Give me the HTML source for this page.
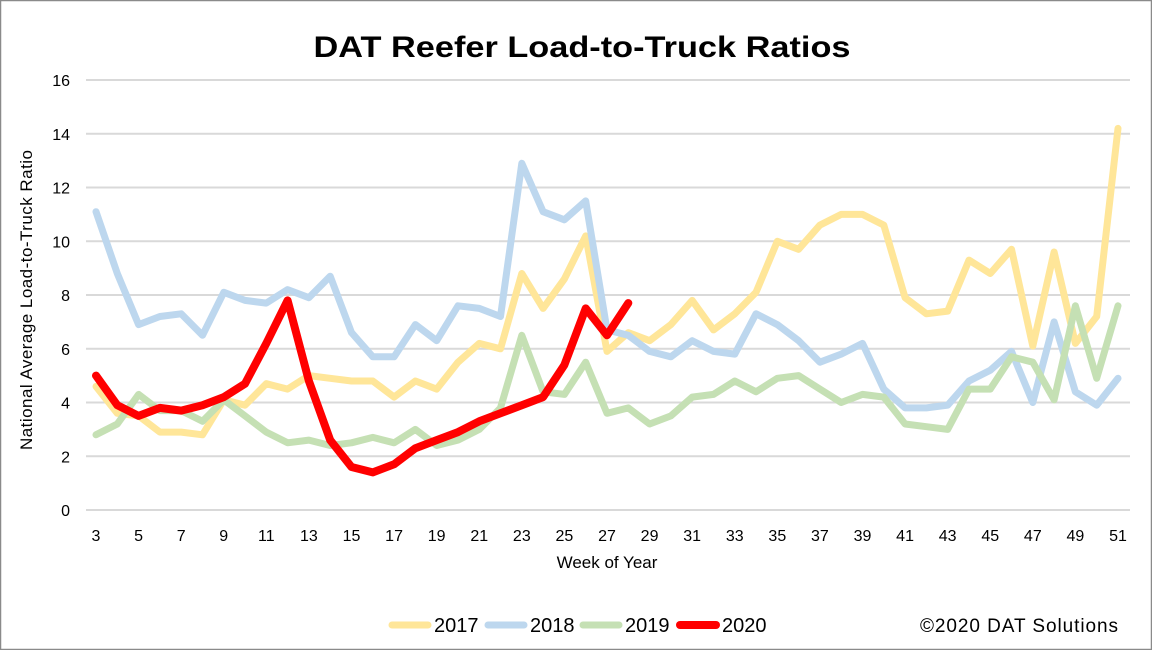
<!DOCTYPE html>
<html><head><meta charset="utf-8"><style>
html,body{margin:0;padding:0;background:#fff;}
svg{display:block;font-family:"Liberation Sans",sans-serif;}
</style></head><body>
<svg id="chart" width="1152" height="650" viewBox="0 0 1152 650">
<rect x="0.5" y="0.5" width="1151" height="649" fill="#fff" stroke="#8a8a8a" stroke-width="1.5"/>
<text x="582" y="57" text-anchor="middle" font-size="30" font-weight="bold" fill="#000" textLength="537" lengthAdjust="spacingAndGlyphs">DAT Reefer Load-to-Truck Ratios</text>
<g id="grid"></g>
<g id="yticks"></g>
<g id="xticks"></g>
<g id="series"></g>
<text transform="translate(32,300) rotate(-90)" text-anchor="middle" font-size="17" fill="#000" textLength="300">National Average Load-to-Truck Ratio</text>
<text x="607" y="568" text-anchor="middle" font-size="17" fill="#000">Week of Year</text>
<g id="legend"></g>
<text x="1118" y="632" text-anchor="end" font-size="19" fill="#000" textLength="198">©2020 DAT Solutions</text>
</svg>
<script>
const weeks=[];for(let w=3;w<=51;w++)weeks.push(w);
const yTicks=[0,2,4,6,8,10,12,14,16];
const xTickLabels=[3,5,7,9,11,13,15,17,19,21,23,25,27,29,31,33,35,37,39,41,43,45,47,49,51];
const s2017=[4.6,3.6,3.5,2.9,2.9,2.8,4.1,3.9,4.7,4.5,5.0,4.9,4.8,4.8,4.2,4.8,4.5,5.5,6.2,6.0,8.8,7.5,8.6,10.2,5.9,6.6,6.3,6.9,7.8,6.7,7.3,8.1,10.0,9.7,10.6,11.0,11.0,10.6,7.9,7.3,7.4,9.3,8.8,9.7,6.1,9.6,6.2,7.2,14.2];
const s2018=[11.1,8.8,6.9,7.2,7.3,6.5,8.1,7.8,7.7,8.2,7.9,8.7,6.6,5.7,5.7,6.9,6.3,7.6,7.5,7.2,12.9,11.1,10.8,11.5,6.7,6.5,5.9,5.7,6.3,5.9,5.8,7.3,6.9,6.3,5.5,5.8,6.2,4.5,3.8,3.8,3.9,4.8,5.2,5.9,4.0,7.0,4.4,3.9,4.9];
const s2019=[2.8,3.2,4.3,3.7,3.7,3.3,4.1,3.5,2.9,2.5,2.6,2.4,2.5,2.7,2.5,3.0,2.4,2.6,3.0,3.8,6.5,4.4,4.3,5.5,3.6,3.8,3.2,3.5,4.2,4.3,4.8,4.4,4.9,5.0,4.5,4.0,4.3,4.2,3.2,3.1,3.0,4.5,4.5,5.7,5.5,4.1,7.6,4.9,7.6];
const s2020=[5.0,3.9,3.5,3.8,3.7,3.9,4.2,4.7,6.2,7.8,4.8,2.6,1.6,1.4,1.7,2.3,2.6,2.9,3.3,3.6,3.9,4.2,5.4,7.5,6.5,7.7];
const seriesNames=["2017","2018","2019","2020"];
const NS="http://www.w3.org/2000/svg";
const X0=96,X1=1118,Y0=510,Y1=80;
const xs=w=>X0+(w-3)*(X1-X0)/48;
const ys=v=>Y0-v*(Y0-Y1)/16;
function mk(t,a,p){const e=document.createElementNS(NS,t);for(const k in a)e.setAttribute(k,a[k]);p.appendChild(e);return e;}
const grid=document.getElementById('grid'),yt=document.getElementById('yticks'),xt=document.getElementById('xticks');
yTicks.forEach(v=>{
 const l=mk('line',{x1:86,x2:1130,y1:ys(v),y2:ys(v),stroke:'#d9d9d9','stroke-width':2},grid);
 
 
 const t=mk('text',{x:70,y:ys(v)+6,'text-anchor':'end','font-size':16},yt);
 t.textContent=v;
 
 
});
xTickLabels.forEach(w=>{
 const t=mk('text',{x:xs(w),y:541,'text-anchor':'middle','font-size':16},xt);
 t.textContent=w;
 
 
});
const colors=['#ffe699','#bdd7ee','#c5e0b4','#ff0000'];
const widths=[7,7,7,8];
const data=[s2017,s2018,s2019,s2020];
const sg=document.getElementById('series');
data.forEach((d,i)=>{
 const pts=d.map((v,j)=>xs(weeks[j]).toFixed(1)+','+ys(v).toFixed(1)).join(' ');
 const p=mk('polyline',{points:pts,fill:'none',stroke:colors[i],'stroke-width':widths[i],'stroke-linejoin':'round','stroke-linecap':'round'},sg);
 
 
});
const lg=document.getElementById('legend');
const lx=[392,488,583,680];
seriesNames.forEach((n,i)=>{
 const g=mk('g',{},lg);
 
 
 mk('line',{x1:lx[i],x2:lx[i]+36,y1:625,y2:625,stroke:colors[i],'stroke-width':widths[i],'stroke-linecap':'round'},g);
 const t=mk('text',{x:lx[i]+42,y:632,'font-size':20},g);
 t.textContent=n;
});
</script>
</body></html>
